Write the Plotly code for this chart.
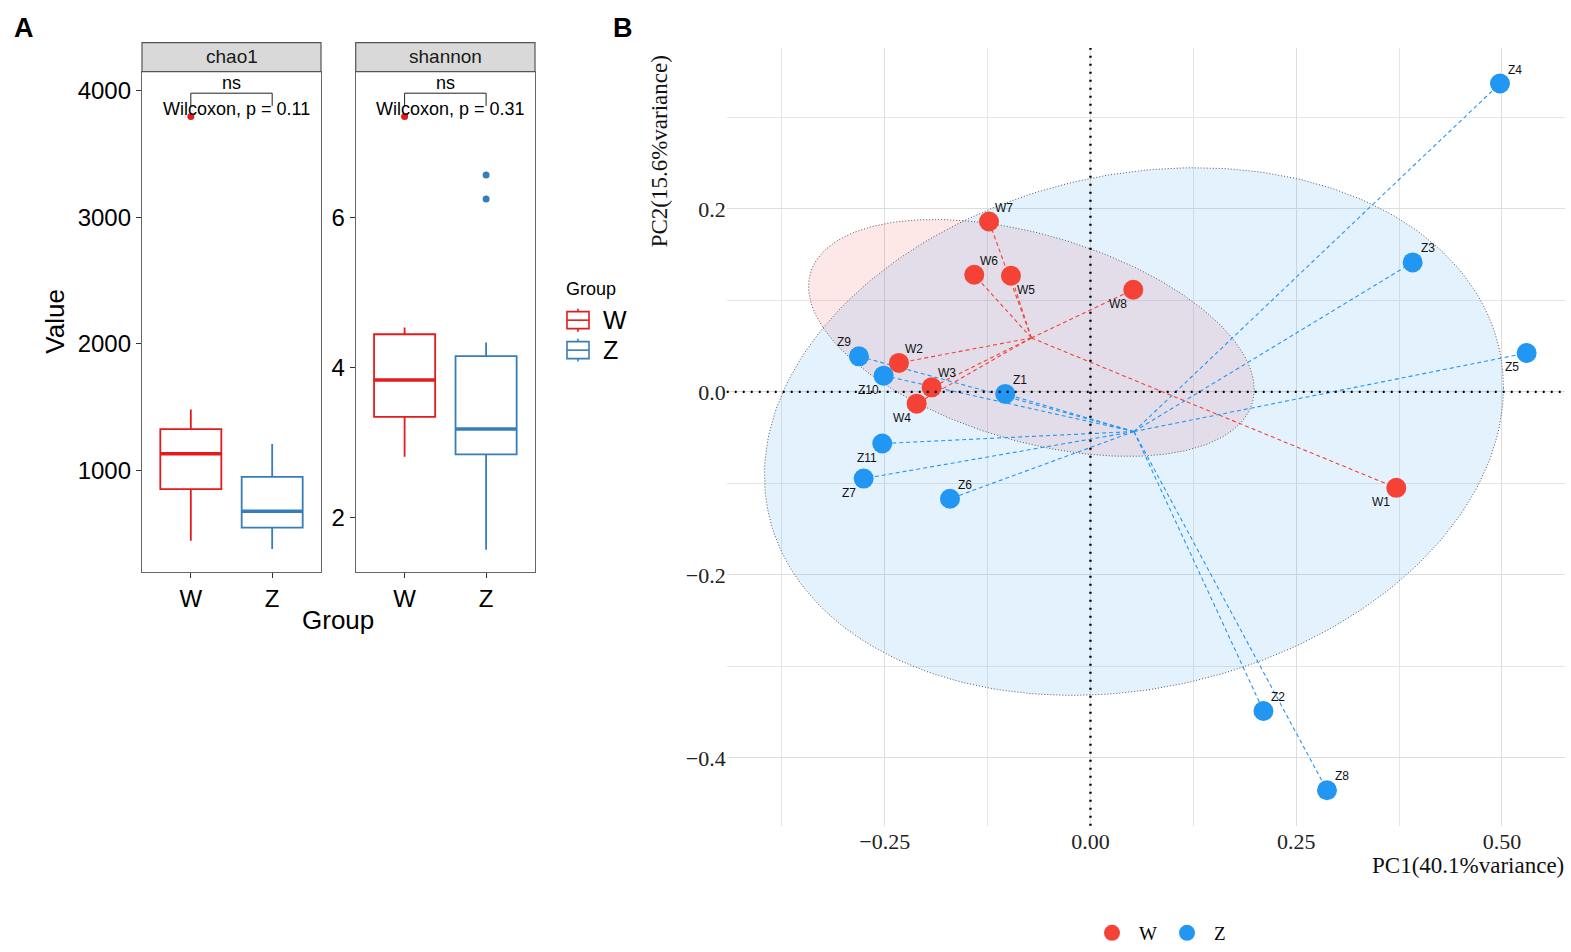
import numpy as np
import plotly.graph_objects as go

FIG_W, FIG_H = 1571, 952

# ---------------- Panel A data (alpha diversity) ----------------
groups = ["W", "Z"]
group_x = [1, 2]

chao1_lower = [443, 378]
chao1_q1 = [850, 546]
chao1_median = [1131, 675]
chao1_q3 = [1325, 947]
chao1_upper = [1480, 1207]
chao1_outlier_groups = ["W"]
chao1_outliers = [3795]

shannon_lower = [2.81, 1.57]
shannon_q1 = [3.34, 2.84]
shannon_median = [3.83, 3.18]
shannon_q3 = [4.44, 4.15]
shannon_upper = [4.53, 4.33]
shannon_outlier_groups = ["W", "Z", "Z"]
shannon_outliers = [7.34, 6.56, 6.24]

chao1_p = "0.11"
shannon_p = "0.31"

# ---------------- Panel B data (PCA) ----------------
sample_names = ["W1", "W2", "W3", "W4", "W5", "W6", "W7", "W8",
                "Z1", "Z2", "Z3", "Z4", "Z5", "Z6", "Z7", "Z8", "Z9", "Z10", "Z11"]
sample_groups = ["W"] * 8 + ["Z"] * 11
pc1 = [0.3716, -0.2327, -0.1930, -0.2112, -0.0966, -0.1412, -0.1233, 0.0520,
       -0.1035, 0.2102, 0.3915, 0.4976, 0.5300, -0.1707, -0.2756, 0.2874, -0.2813, -0.2513, -0.2530]
pc2 = [-0.1048, 0.0317, 0.0050, -0.0128, 0.1270, 0.1280, 0.1862, 0.1117,
       -0.0022, -0.3487, 0.1415, 0.3370, 0.0425, -0.1168, -0.0947, -0.4353, 0.0389, 0.0178, -0.0564]
pc1_title = "PC1(40.1%variance)"
pc2_title = "PC2(15.6%variance)"

# label placement (style): t/b = above/below, l/r = left/right
label_dir = {"W1": "bl", "W2": "tr", "W3": "tr", "W4": "bl", "W5": "br", "W6": "tr",
             "W7": "tr", "W8": "bl", "Z1": "tr", "Z2": "tr", "Z3": "tr", "Z4": "tr",
             "Z5": "bl", "Z6": "tr", "Z7": "bl", "Z8": "tr", "Z9": "tl", "Z10": "bl", "Z11": "bl"}

ELLIPSE_LEVEL = 0.6

# ---------------- styles ----------------
box_colors = {"W": "#E41A1C", "Z": "#377EB8"}
pca_colors = {"W": "#F44336", "Z": "#2196F3"}
pca_fill = {"W": "rgba(244,67,54,0.12)", "Z": "rgba(33,150,243,0.12)"}
SANS = "Liberation Sans, Arial, sans-serif"
SERIF = "Liberation Serif, Times New Roman, serif"


def px(x):
    return x / FIG_W


def py(y):
    return 1 - y / FIG_H


annotations = []
shapes = []


def ptext(xp, yp, text, size, family=SANS, color="black", xanchor="center",
          yanchor="middle", angle=0, xref="paper"):
    annotations.append(dict(
        x=xp, y=yp, xref=xref, yref="paper", text=text, showarrow=False,
        xanchor=xanchor, yanchor=yanchor, textangle=angle,
        font=dict(family=family, size=size, color=color)))


fig = go.Figure()

# ---------- Panel A boxes ----------
panels = [
    ("x", "y", chao1_lower, chao1_q1, chao1_median, chao1_q3, chao1_upper,
     chao1_outlier_groups, chao1_outliers),
    ("x2", "y2", shannon_lower, shannon_q1, shannon_median, shannon_q3, shannon_upper,
     shannon_outlier_groups, shannon_outliers),
]
for xa, ya, lo, q1, med, q3, up, og, ov in panels:
    for i, g in enumerate(groups):
        c = box_colors[g]
        fig.add_trace(go.Box(
            x=[group_x[i]], q1=[q1[i]], median=[med[i]], q3=[q3[i]],
            lowerfence=[lo[i]], upperfence=[up[i]],
            width=0.75, whiskerwidth=0, boxpoints=False,
            fillcolor="rgba(255,255,255,0)", line=dict(color=c, width=1.8),
            xaxis=xa, yaxis=ya, showlegend=False, hoverinfo="skip"))
        fig.add_trace(go.Scatter(
            x=[group_x[i] - 0.375, group_x[i] + 0.375], y=[med[i], med[i]],
            mode="lines", line=dict(color=c, width=3.5),
            xaxis=xa, yaxis=ya, showlegend=False, hoverinfo="skip"))
    ox = [group_x[groups.index(g)] for g in og]
    oc = [box_colors[g] for g in og]
    fig.add_trace(go.Scatter(
        x=ox, y=ov, mode="markers", marker=dict(color=oc, size=7),
        xaxis=xa, yaxis=ya, showlegend=False, hoverinfo="skip"))

# ---------- Panel B ----------
pc1_arr = np.array(pc1)
pc2_arr = np.array(pc2)
grp_arr = np.array(sample_groups)
theta = np.linspace(0, 2 * np.pi, 241)
circle = np.column_stack([np.cos(theta), np.sin(theta)])
radius = np.sqrt(-2 * np.log(1 - ELLIPSE_LEVEL))

for g in groups:
    m = grp_arr == g
    pts = np.column_stack([pc1_arr[m], pc2_arr[m]])
    mu = pts.mean(axis=0)
    cov = np.cov(pts.T)
    U = np.linalg.cholesky(cov).T
    ell = mu + radius * circle @ U
    fig.add_trace(go.Scatter(
        x=ell[:, 0], y=ell[:, 1], mode="lines", fill="toself",
        fillcolor=pca_fill[g], line=dict(color="#555555", width=1, dash="1px,2px"),
        xaxis="x3", yaxis="y3", showlegend=False, hoverinfo="skip"))

for g in groups:
    m = grp_arr == g
    cx, cy = pc1_arr[m].mean(), pc2_arr[m].mean()
    lx, ly = [], []
    for x, y in zip(pc1_arr[m], pc2_arr[m]):
        lx += [cx, x, None]
        ly += [cy, y, None]
    fig.add_trace(go.Scatter(
        x=lx, y=ly, mode="lines", line=dict(color=pca_colors[g], width=1.1, dash="4px,3px"),
        xaxis="x3", yaxis="y3", showlegend=False, hoverinfo="skip"))

for g in groups:
    m = grp_arr == g
    fig.add_trace(go.Scatter(
        x=pc1_arr[m], y=pc2_arr[m], mode="markers", name=g,
        marker=dict(color=pca_colors[g], size=20, line=dict(width=0)),
        xaxis="x3", yaxis="y3", legend="legend2"))

for name, x, y in zip(sample_names, pc1, pc2):
    d = label_dir[name]
    annotations.append(dict(
        x=x, y=y, xref="x3", yref="y3", text=name, showarrow=False,
        xanchor="center", yanchor="middle",
        xshift=15 if "r" in d else -15, yshift=14 if "t" in d else -14,
        font=dict(family=SANS, size=12, color="#111111")))

# zero reference lines
shapes.append(dict(type="line", xref="x3", yref="y3 domain", x0=0, x1=0, y0=0, y1=1,
                   line=dict(color="black", width=2.4, dash="2px,6px"), layer="above"))
shapes.append(dict(type="line", xref="x3 domain", yref="y3", x0=0, x1=1, y0=0, y1=0,
                   line=dict(color="black", width=2.4, dash="2px,6px"), layer="above"))

# ---------- Panel A decorations ----------
strips = [("chao1", 142, 321, "x", chao1_p), ("shannon", 355.7, 535, "x2", shannon_p)]
for label, x0, x1, xa, p in strips:
    shapes.append(dict(type="rect", xref="paper", yref="paper",
                       x0=px(x0), x1=px(x1), y0=py(71.7), y1=py(42.7),
                       fillcolor="#D9D9D9", line=dict(color="#555555", width=1.2), layer="above"))
    ptext(px((x0 + x1) / 2), py(57), label, 19, color="#1a1a1a")
    # significance bracket
    shapes.append(dict(type="line", xref=xa, yref="paper", x0=group_x[0], x1=group_x[1],
                       y0=py(93.3), y1=py(93.3), line=dict(color="#222222", width=1)))
    for gx in group_x:
        shapes.append(dict(type="line", xref=xa, yref="paper", x0=gx, x1=gx,
                           y0=py(93.3), y1=py(106), line=dict(color="#222222", width=1)))
    ptext(1.5, py(83), "ns", 18, xref=xa)
    ptext(1.56, py(109.5), "Wilcoxon, p = " + p, 18, xref=xa)

# Panel A titles
ptext(px(55), py(322), "Value", 26, angle=-90)
ptext(px(338), py(621), "Group", 26)

# Panel A legend (drawn)
ptext(px(564), py(289), "Group", 18, xanchor="left")
for i, g in enumerate(groups):
    c = box_colors[g]
    yc = 320.5 + 30 * i
    shapes.append(dict(type="rect", xref="paper", yref="paper", x0=px(567), x1=px(589),
                       y0=py(yc - 8.5), y1=py(yc + 8.5), line=dict(color=c, width=1.6),
                       fillcolor="white"))
    shapes.append(dict(type="line", xref="paper", yref="paper", x0=px(567), x1=px(589),
                       y0=py(yc), y1=py(yc), line=dict(color=c, width=1.6)))
    shapes.append(dict(type="line", xref="paper", yref="paper", x0=px(578), x1=px(578),
                       y0=py(yc - 11.5), y1=py(yc - 8.5), line=dict(color=c, width=1.6)))
    shapes.append(dict(type="line", xref="paper", yref="paper", x0=px(578), x1=px(578),
                       y0=py(yc + 8.5), y1=py(yc + 11.5), line=dict(color=c, width=1.6)))
    ptext(px(601), py(yc), g, 25, xanchor="left")

# Panel B titles
ptext(px(659), py(151.5), pc2_title, 23, family=SERIF, color="#111111", angle=-90)
ptext(px(1566), py(866), pc1_title, 23, family=SERIF, color="#111111", xanchor="right")

# panel tags
ptext(px(12), py(28), "<b>A</b>", 27, xanchor="left")
ptext(px(611), py(28), "<b>B</b>", 27, xanchor="left")

boxaxis_common = dict(showline=True, mirror=True, linecolor="#666666", linewidth=1.3,
                      ticks="outside", ticklen=5, tickcolor="#333333", tickwidth=1.2,
                      showgrid=False, zeroline=False,
                      tickfont=dict(family=SANS, size=24, color="black"))

fig.update_layout(
    width=FIG_W, height=FIG_H, margin=dict(l=0, r=0, t=0, b=0),
    paper_bgcolor="white", plot_bgcolor="white",
    xaxis=dict(domain=[px(142), px(321)], range=[0.4, 2.6], tickvals=group_x, ticktext=groups,
               anchor="y", **boxaxis_common),
    yaxis=dict(domain=[py(572.7), py(71.7)], range=[195, 4150], tickvals=[1000, 2000, 3000, 4000],
               anchor="x", **boxaxis_common),
    xaxis2=dict(domain=[px(355.7), px(535)], range=[0.4, 2.6], tickvals=group_x, ticktext=groups,
                anchor="y2", **boxaxis_common),
    yaxis2=dict(domain=[py(572.7), py(71.7)], range=[1.273, 7.937], tickvals=[2, 4, 6],
                anchor="x2", **boxaxis_common),
    xaxis3=dict(domain=[px(726.7), px(1565)], range=[-0.442, 0.5766], anchor="y3",
                tickvals=[-0.25, 0, 0.25, 0.5], tickformat=".2f",
                showgrid=True, gridcolor="#DEDEDE", gridwidth=1.3, zeroline=False,
                showline=False, ticks="",
                minor=dict(tickvals=[-0.375, -0.125, 0.125, 0.375], showgrid=True,
                           gridcolor="#E6E6E6", gridwidth=1),
                tickfont=dict(family=SERIF, size=22, color="#222222")),
    yaxis3=dict(domain=[py(826.7), py(48)], range=[-0.4742, 0.3759], anchor="x3",
                tickvals=[-0.4, -0.2, 0, 0.2], tickformat=".1f",
                showgrid=True, gridcolor="#DEDEDE", gridwidth=1.3, zeroline=False,
                showline=False, ticks="",
                minor=dict(tickvals=[-0.3, -0.1, 0.1, 0.3], showgrid=True,
                           gridcolor="#E6E6E6", gridwidth=1),
                tickfont=dict(family=SERIF, size=22, color="#222222")),
    legend2=dict(orientation="h", x=px(1160), xanchor="center", y=py(934), yanchor="middle",
                 font=dict(family=SERIF, size=19, color="black"), bgcolor="rgba(0,0,0,0)",
                 itemwidth=44, entrywidth=16, entrywidthmode="pixels"),
    showlegend=True,
    annotations=annotations,
    shapes=shapes,
)

fig.write_html("out.html", config={"displayModeBar": False},
               post_script="document.body.style.margin='0';")
